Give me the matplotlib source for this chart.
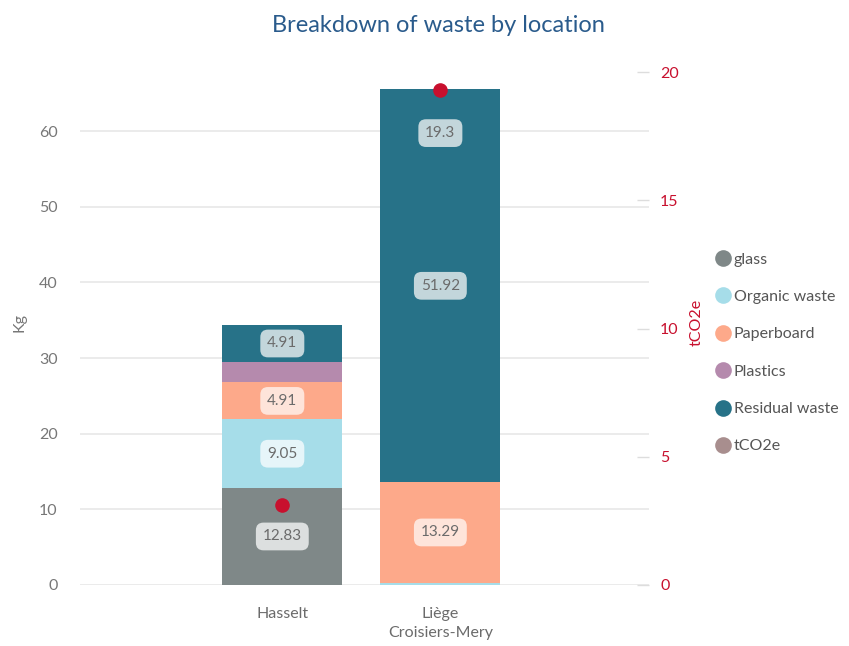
import matplotlib
matplotlib.use("Agg")
import matplotlib.pyplot as plt
from matplotlib.lines import Line2D
import numpy as np

plt.rcParams["font.family"] = ["Lato", "DejaVu Sans"]

locations = ["Hasselt", "Liège\nCroisiers-Mery"]
categories = ["glass", "Organic waste", "Paperboard", "Plastics", "Residual waste"]
waste_kg = {
    "glass": [12.83, 0.0],
    "Organic waste": [9.05, 0.3],
    "Paperboard": [4.91, 13.29],
    "Plastics": [2.68, 0.0],
    "Residual waste": [4.91, 51.92],
}
tco2e = [3.12, 19.3]
# which segments carry a value label
labelled = {
    "glass": [True, False],
    "Organic waste": [True, False],
    "Paperboard": [True, True],
    "Plastics": [False, False],
    "Residual waste": [True, True],
}
tco2e_labelled = [False, True]

colors = {
    "glass": "#7f8888",
    "Organic waste": "#a6dde9",
    "Paperboard": "#fda98a",
    "Plastics": "#b58aad",
    "Residual waste": "#277288",
}
label_box = {
    "glass": "#dcdfdf",
    "Organic waste": "#e6f5f9",
    "Paperboard": "#fee4da",
    "Residual waste": "#c3d6db",
}
tco2e_color = "#c8102e"
tco2e_legend = "#a88e8e"
text_gray = "#6b6b6b"

fig = plt.figure(figsize=(8.49, 6.46), dpi=100)
ax = fig.add_axes([80 / 849, 61 / 646, 569 / 849, 525 / 646])
ax2 = ax.twinx()

x = np.arange(len(locations))
width = 0.76
bottom = np.zeros(len(locations))
for cat in categories:
    vals = np.array(waste_kg[cat])
    ax.bar(x, vals, width, bottom=bottom, color=colors[cat], zorder=2)
    for i, v in enumerate(vals):
        if labelled[cat][i]:
            ax.text(x[i], bottom[i] + v / 2, f"{v:g}", ha="center", va="center",
                    fontsize=11, color=text_gray, zorder=4,
                    bbox=dict(boxstyle="round,pad=0.45,rounding_size=0.5",
                              fc=label_box[cat], ec="none"))
    bottom += vals

ax.set_xlim(-1.28, 2.32)
ax.set_ylim(0, 69.4)
ax.set_yticks(np.arange(0, 61, 10))
ax.set_xticks(x)
ax.set_xticklabels(locations, fontsize=11.5, color=text_gray, linespacing=1.45)
ax.tick_params(axis="y", length=0, labelsize=11.5, colors="#777777", pad=16)
ax.tick_params(axis="x", length=0, pad=16)
ax.grid(axis="y", color="#e8e8e8", linewidth=1.2, zorder=0)
ax.set_ylabel("Kg", fontsize=11.5, color="#777777", labelpad=9)
for s in ax.spines.values():
    s.set_visible(False)

ax2.set_ylim(0, 69.4 * 20 / 67.8)
ax2.set_yticks(np.arange(0, 21, 5))
ax2.tick_params(axis="y", direction="in", length=9, width=1, color="#dddddd",
                labelsize=11.5, labelcolor=tco2e_color, pad=8)
ax2.set_ylabel("tCO2e", fontsize=11.5, color=tco2e_color, labelpad=8)
for s in ax2.spines.values():
    s.set_visible(False)
ax2.scatter(x, tco2e, s=90, color=tco2e_color, zorder=5)
for i, v in enumerate(tco2e):
    if tco2e_labelled[i]:
        ax2.annotate(f"{v:g}", (x[i], v), xytext=(0, -31), textcoords="offset points",
                     ha="center", va="center", fontsize=11, color=text_gray, zorder=6,
                     bbox=dict(boxstyle="round,pad=0.45,rounding_size=0.5",
                               fc=label_box["Residual waste"], ec="none"))

handles = [Line2D([0], [0], marker="o", linestyle="none", markersize=12,
                  markerfacecolor=colors[c], markeredgecolor="none") for c in categories]
handles.append(Line2D([0], [0], marker="o", linestyle="none", markersize=12,
                      markerfacecolor=tco2e_legend, markeredgecolor="none"))
fig.legend(handles, categories + ["tCO2e"], loc="center left",
           bbox_to_anchor=(716 / 849, 1 - 353 / 646), frameon=False, borderpad=0,
           borderaxespad=0, handlelength=0.9, fontsize=11.5, labelspacing=1.45,
           handletextpad=0.2, labelcolor="#555555")

fig.suptitle("Breakdown of waste by location", x=438 / 849, y=1 - 25 / 646,
             va="center", fontsize=17, color="#2a5b8c")

fig.savefig("out.png", dpi=100)
